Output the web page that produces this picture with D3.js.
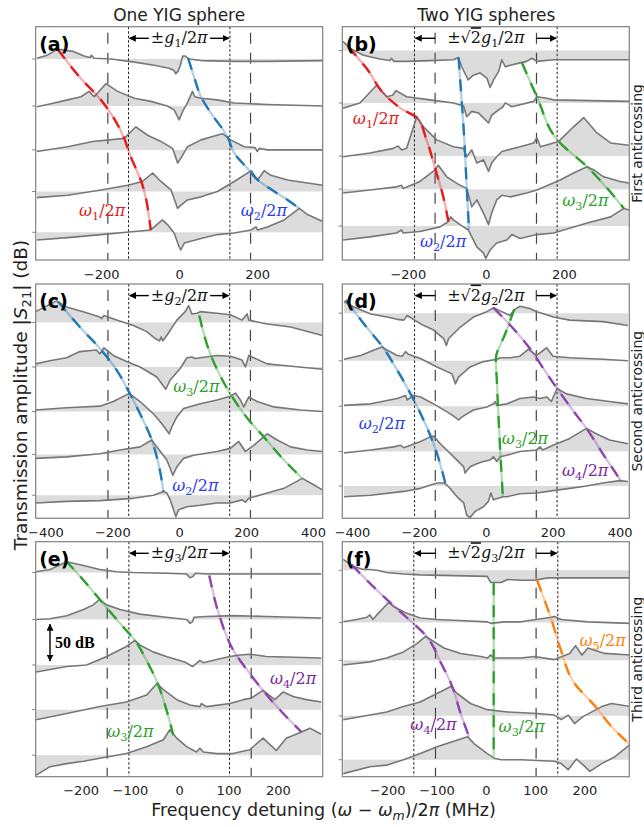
<!DOCTYPE html>
<html>
<head>
<meta charset="utf-8" />
<title>YIG anticrossings | D3</title>
<style>
body { margin: 0; background: white; font-family: "DejaVu Sans", sans-serif; }
</style>
<script src="https://d3js.org/d3.v7.min.js"></script>
</head>
<body>
<script>
// ---------- data: frequency detuning (MHz), level (dB, offset traces) ----------
var domOne = [-368, 368], domTwo = [-429, 429], domThree = [-291, 291];
var ticksOne = [-200, 0, 200], ticksTwo = [-400, -200, 0, 200, 400], ticksThree = [-200, -100, 0, 100, 200];
var rowDb = [303, 305, 305];

// panel (a)
var baseA = [261, 200, 143, 89, 36];
var a1 = [[-365,262],[-338,266],[-312,274],[-273,271],[-244,265],[-228,263],[-225,266],[-218,262],[-175,261],[-115,257],[-64,253],[-26,249],[-13,246],[-9,242],[-3,245],[3,253],[9,265],[15,265],[26,261],[56,259],[141,258],[226,258],[368,259]];
var a2 = [[-365,199],[-329,203],[-286,208],[-252,212],[-231,219],[-218,212],[-188,229],[-158,219],[-115,210],[-73,206],[-30,200],[-13,195],[0,182],[9,193],[21,204],[34,219],[40,212],[56,210],[98,208],[141,204],[226,202],[368,200]];
var a3 = [[-365,141],[-286,147],[-222,154],[-141,158],[-111,173],[-81,162],[-47,154],[-17,145],[-4,126],[4,132],[21,147],[56,156],[90,161],[111,164],[132,156],[167,147],[195,146],[200,141],[206,145],[226,143],[368,143]];
var a4 = [[-365,81],[-286,84],[-201,91],[-132,97],[-94,102],[-68,113],[-47,102],[-21,91],[-4,67],[4,71],[21,78],[56,82],[98,89],[141,102],[185,116],[201,104],[218,116],[235,110],[278,104],[329,100],[368,97]];
var a5 = [[-365,26],[-286,29],[-201,33],[-115,37],[-73,39],[-43,52],[-30,46],[-13,35],[0,17],[4,13],[13,22],[56,28],[98,33],[141,35],[184,39],[197,43],[201,39],[226,43],[269,52],[308,67],[329,59],[368,50]];
var w1A = [[-312,274],[-256,238],[-201,208],[-141,158],[-128,139],[-94,97],[-73,39]];
var w2A = [[23,262],[38,238],[56,212],[81,191],[124,160],[141,139],[175,119],[201,104],[244,89],[278,78],[308,67]];

// panel (b)
var baseB = [272, 204, 135, 92, 44];
var b1 = [[-366,284],[-349,275],[-314,266],[-272,261],[-246,259],[-242,262],[-236,258],[-203,258],[-143,259],[-83,260],[-70,263],[-62,251],[-45,234],[-32,240],[-15,243],[3,236],[11,224],[20,234],[33,245],[41,260],[50,251],[63,253],[88,256],[105,258],[118,262],[131,258],[174,260],[260,260],[367,260]];
var b2 = [[-366,197],[-323,204],[-280,227],[-254,212],[-239,214],[-230,220],[-203,212],[-143,208],[-83,204],[-57,200],[-49,186],[-36,193],[-19,191],[7,178],[15,188],[33,195],[44,199],[50,204],[67,199],[123,206],[131,212],[157,210],[174,208],[367,206]];
var b3 = [[-366,134],[-297,139],[-237,145],[-225,148],[-216,143],[-203,145],[-177,186],[-160,173],[-126,156],[-83,147],[-57,145],[-49,134],[-36,143],[-23,126],[-6,130],[7,115],[15,126],[28,134],[41,141],[88,147],[123,152],[131,159],[140,147],[187,154],[225,173],[251,185],[285,165],[320,152],[367,149]];
var b4 = [[-366,87],[-297,91],[-229,95],[-216,97],[-212,93],[-169,102],[-130,117],[-122,123],[-100,108],[-66,97],[-49,93],[-36,69],[-23,78],[-6,61],[7,46],[15,61],[28,78],[41,84],[63,82],[105,87],[131,91],[191,104],[225,113],[260,121],[277,117],[302,108],[345,102],[367,100]];
var b5 = [[-366,26],[-297,30],[-229,35],[-216,39],[-212,35],[-169,37],[-117,43],[-96,50],[-90,56],[-83,52],[-66,46],[-45,39],[-32,26],[-23,17],[-6,9],[0,2],[11,13],[28,22],[54,26],[67,33],[88,28],[131,33],[174,35],[260,48],[320,56],[354,67],[367,65]];
var w1B = [[-353,277],[-306,249],[-254,212],[-212,195],[-177,185],[-152,156],[-130,119],[-109,82],[-96,50]];
var w2B = [[-70,263],[-62,208],[-55,156],[-49,95],[-43,39]];
var w3B = [[93,256],[131,212],[187,154],[260,121],[354,67]];

// panel (c)
var baseC = [255, 197, 139, 83, 30];
var c1 = [[-429,269],[-367,283],[-337,275],[-287,269],[-237,262],[-232,260],[-225,264],[-187,258],[-137,251],[-97,243],[-72,234],[-59,231],[-54,236],[-49,231],[-37,238],[-7,258],[18,269],[28,277],[38,266],[53,267],[63,269],[113,267],[153,265],[188,258],[203,266],[208,258],[263,253],[333,249],[428,238]];
var c2 = [[-429,201],[-387,205],[-337,209],[-297,217],[-247,219],[-237,214],[-225,222],[-197,212],[-157,204],[-117,197],[-67,184],[-40,168],[-27,180],[3,195],[23,209],[38,210],[48,208],[63,209],[113,212],[153,211],[188,206],[198,197],[208,212],[263,201],[313,199],[428,194]];
var c3 = [[-429,141],[-337,144],[-237,146],[-197,152],[-152,162],[-142,160],[-117,152],[-77,136],[-52,123],[-30,110],[-22,119],[-7,132],[13,143],[63,149],[113,154],[153,159],[168,163],[183,154],[193,145],[208,158],[233,152],[283,145],[363,141],[428,139]];
var c4 = [[-429,78],[-337,80],[-237,84],[-177,89],[-117,93],[-82,102],[-67,93],[-37,76],[-19,56],[-7,67],[13,78],[43,82],[113,87],[153,91],[178,100],[198,87],[223,95],[263,110],[293,102],[333,93],[383,89],[428,87]];
var c5 = [[-429,20],[-337,22],[-237,23],[-137,26],[-77,30],[-47,35],[-37,33],[-27,24],[-17,11],[-10,2],[-2,11],[23,15],[63,17],[113,20],[153,20],[188,24],[198,21],[208,26],[263,33],[313,39],[368,52],[393,46],[428,37]];
var w2C = [[-362,282],[-297,249],[-237,221],[-187,193],[-152,166],[-117,136],[-82,102],[-62,71],[-47,35]];
var w3C = [[60,264],[93,214],[153,162],[208,128],[253,106],[313,76],[368,52]];

// panel (d)
var baseD = [267, 205, 146, 87, 42];
var dd1 = [[-424,282],[-394,275],[-344,266],[-295,262],[-265,259],[-245,258],[-235,264],[-195,253],[-156,245],[-126,234],[-118,225],[-111,234],[-76,249],[-37,262],[3,269],[23,274],[38,271],[63,266],[72,264],[87,272],[102,276],[132,273],[152,269],[182,265],[201,262],[251,258],[350,256],[425,251]];
var dd2 = [[-424,207],[-374,212],[-334,219],[-310,223],[-295,219],[-265,212],[-250,211],[-240,217],[-233,214],[-195,208],[-146,197],[-101,188],[-91,175],[-81,184],[-47,197],[-7,204],[33,207],[43,209],[72,209],[102,211],[127,220],[152,212],[182,222],[201,211],[251,209],[350,207],[425,205]];
var dd3 = [[-424,147],[-344,149],[-265,156],[-240,160],[-235,154],[-217,160],[-195,158],[-156,149],[-106,136],[-81,128],[-71,132],[-37,141],[3,145],[23,149],[28,152],[33,147],[63,149],[102,156],[142,158],[162,156],[182,158],[196,152],[213,169],[241,162],[301,156],[370,152],[425,149]];
var dd4 = [[-424,85],[-344,89],[-275,93],[-255,95],[-245,92],[-195,100],[-166,106],[-156,107],[-136,97],[-96,80],[-66,67],[-62,59],[-47,67],[-27,71],[-7,74],[13,76],[23,80],[33,74],[43,80],[63,82],[102,87],[152,89],[162,93],[170,89],[201,95],[251,104],[301,117],[330,110],[370,102],[425,97]];
var dd5 = [[-424,28],[-344,30],[-245,35],[-195,39],[-146,46],[-124,46],[-111,41],[-86,28],[-66,20],[-57,4],[-47,1],[-32,9],[-7,15],[8,22],[15,33],[23,24],[51,28],[63,28],[102,32],[152,33],[201,36],[251,39],[301,42],[350,46],[400,49],[425,48]];
var w2D = [[-419,284],[-364,253],[-305,221],[-265,193],[-220,158],[-186,128],[-156,97],[-121,46]];
var w3D = [[85,272],[58,240],[30,207],[33,180],[36,149],[40,115],[44,80],[51,28]];
var w4D = [[23,274],[82,247],[132,221],[172,195],[213,169],[256,143],[301,117],[350,84],[405,48]];

// panel (e)
var baseE = [265, 204, 145, 87, 28];
var e1 = [[-290,266],[-262,269],[-228,279],[-208,276],[-194,274],[-161,269],[-127,266],[-93,265],[-26,264],[15,263],[22,258],[28,260],[33,264],[55,263],[109,263],[177,263],[288,263]];
var e2 = [[-290,204],[-262,205],[-228,209],[-194,217],[-174,223],[-162,230],[-147,223],[-120,217],[-80,211],[-26,207],[15,204],[22,199],[27,201],[30,207],[55,208],[109,209],[177,208],[288,206]];
var e3 = [[-290,136],[-228,143],[-188,145],[-147,156],[-107,169],[-90,177],[-80,171],[-53,162],[-26,156],[11,149],[27,143],[35,147],[42,151],[49,148],[76,152],[103,156],[123,158],[143,159],[177,156],[288,154]];
var e4 = [[-290,74],[-228,82],[-161,91],[-107,97],[-66,106],[-45,121],[-32,113],[-5,100],[22,93],[42,91],[45,95],[55,91],[103,95],[130,100],[146,102],[170,112],[194,100],[211,110],[231,104],[258,100],[288,97]];
var e5 = [[-290,2],[-280,6],[-262,13],[-228,17],[-194,20],[-161,24],[-107,30],[-66,39],[-32,48],[-19,61],[-5,50],[15,39],[35,32],[42,37],[49,32],[76,30],[109,30],[143,35],[170,50],[197,34],[217,50],[248,58],[265,63],[288,55]];
var w3E = [[-231,281],[-194,255],[-161,230],[-120,199],[-90,177],[-63,147],[-43,120],[-26,87],[-12,54]];
var w4E = [[61,261],[82,208],[109,165],[143,134],[170,112],[211,82],[248,58]];
var scaleBarE = [-262, 149, 199];

// panel (f)
var baseF = [268, 200, 151, 79, 22];
var f1 = [[-289,282],[-269,273],[-248,269],[-235,269],[-221,268],[-201,265],[-167,263],[-133,262],[-65,261],[3,260],[10,252],[31,252],[44,256],[71,255],[99,255],[126,258],[139,258],[207,258],[293,258]];
var f2 = [[-289,201],[-262,204],[-241,207],[-235,210],[-229,204],[-221,210],[-197,226],[-187,221],[-160,212],[-133,206],[-99,204],[-65,203],[3,201],[10,199],[37,201],[71,201],[133,207],[139,208],[153,204],[207,201],[293,199]];
var f3 = [[-289,145],[-235,149],[-201,154],[-167,162],[-139,173],[-122,182],[-112,178],[-85,167],[-51,160],[-10,156],[3,154],[10,158],[17,154],[71,154],[99,156],[139,152],[170,160],[182,170],[195,158],[207,167],[241,160],[293,158]];
var f4 = [[-289,74],[-235,80],[-201,84],[-167,91],[-133,97],[-99,108],[-71,117],[-58,108],[-31,95],[3,87],[44,84],[105,82],[139,80],[153,74],[167,80],[180,69],[197,78],[235,91],[255,95],[293,91]];
var f5 = [[-289,4],[-235,13],[-201,15],[-167,22],[-133,30],[-99,39],[-65,46],[-37,52],[-24,43],[3,30],[17,24],[31,22],[71,22],[139,20],[153,17],[167,9],[184,23],[201,13],[211,7],[235,17],[262,26],[293,42]];
var w4F = [[-272,275],[-235,251],[-194,226],[-156,204],[-120,182],[-92,149],[-68,117],[-51,82],[-34,52]];
var w3F = [[16,251],[16,26]];
var w5F = [[104,255],[133,204],[152,165],[180,121],[221,92],[255,65],[290,43]];

// coupling strengths (MHz): g and sqrt(2) g
var gOne = [130, 151, 102];
var gTwo = [183, 213, 146];

// mode labels: [mode, detuning, level]
var labA = [[1,-257,57],[2,158,57]];
var labB = [[1,-341,177],[2,-169,17],[3,196,70]];
var labC = [[3,-18,164],[2,-21,36]];
var labD = [[2,-380,116],[3,48,97],[4,228,55]];
var labE = [[3,-146,52],[4,184,120]];
var labF = [[5,190,170],[4,-153,60],[3,26,58]];

var rowNames = ["First anticrossing", "Second anticrossing", "Third anticrossing"];

// ---------- layout ----------
var width = 644, height = 827;
var colX = [35.7, 342.3], colW = 287;
var rowY = [26.7, 284, 541.7], rowH = [233.3, 234.3, 235];
var lineCol = {1:"#e41a1c", 2:"#1f77b4", 3:"#2ca02c", 4:"#8e44ad", 5:"#ff7f0e"};
var textCol = {1:"#e41a1c", 2:"#2b3cf0", 3:"#2ca02c", 4:"#7b2a9c", 5:"#ff7f0e"};

var panels = [
  {id:"a", col:0, row:0, dom:domOne, ticks:ticksOne, base:baseA, traces:[a1,a2,a3,a4,a5], curves:[[1,w1A],[2,w2A]], labs:labA, two:false},
  {id:"b", col:1, row:0, dom:domOne, ticks:ticksOne, base:baseB, traces:[b1,b2,b3,b4,b5], curves:[[1,w1B],[2,w2B],[3,w3B]], labs:labB, two:true},
  {id:"c", col:0, row:1, dom:domTwo, ticks:ticksTwo, base:baseC, traces:[c1,c2,c3,c4,c5], curves:[[2,w2C],[3,w3C]], labs:labC, two:false},
  {id:"d", col:1, row:1, dom:domTwo, ticks:ticksTwo, base:baseD, traces:[dd1,dd2,dd3,dd4,dd5], curves:[[2,w2D],[3,w3D],[4,w4D]], labs:labD, two:true},
  {id:"e", col:0, row:2, dom:domThree, ticks:ticksThree, base:baseE, traces:[e1,e2,e3,e4,e5], curves:[[3,w3E],[4,w4E]], labs:labE, two:false},
  {id:"f", col:1, row:2, dom:domThree, ticks:ticksThree, base:baseF, traces:[f1,f2,f3,f4,f5], curves:[[4,w4F],[3,w3F],[5,w5F]], labs:labF, two:true}
];

var svg = d3.select("body").append("svg").attr("width", width).attr("height", height);
var defs = svg.append("defs");
defs.append("marker").attr("id", "arr").attr("viewBox", "0 0 10 10")
  .attr("refX", 9).attr("refY", 5).attr("markerWidth", 5).attr("markerHeight", 5)
  .attr("orient", "auto-start-reverse")
  .append("path").attr("d", "M0,0L10,5L0,10z").attr("fill", "black");

function mathLabel(sel, x, y, n, color, size) {
  var t = sel.append("text").attr("x", x).attr("y", y).attr("fill", color)
    .attr("font-family", "DejaVu Serif, serif").attr("font-size", size);
  t.append("tspan").attr("font-style", "italic").text("\u03c9");
  t.append("tspan").attr("font-size", size * 0.7).attr("dy", size * 0.25).text(n);
  t.append("tspan").attr("dy", -size * 0.25).text("/2");
  t.append("tspan").attr("font-style", "italic").text("\u03c0");
  return t;
}

function gLabel(sel, cx, y, n, two, size) {
  var t = sel.append("text").attr("x", cx).attr("y", y).attr("text-anchor", "middle")
    .attr("font-family", "DejaVu Serif, serif").attr("font-size", size).attr("fill", "#111");
  t.append("tspan").text(two ? "\u00b1\u221a" : "\u00b1");
  if (two) t.append("tspan").attr("text-decoration", "overline").text("2");
  t.append("tspan").attr("font-style", "italic").text("g");
  t.append("tspan").attr("font-size", size * 0.7).attr("dy", size * 0.25).text(n);
  t.append("tspan").attr("dy", -size * 0.25).text("/2");
  t.append("tspan").attr("font-style", "italic").text("\u03c0");
  return t;
}

function arrow(sel, xa, xb, ya, yb) {
  sel.append("line").attr("x1", xa).attr("x2", xb).attr("y1", ya).attr("y2", yb)
    .attr("stroke", "black").attr("stroke-width", 1.4).attr("marker-end", "url(#arr)");
}

panels.forEach(function(p) {
  var x0 = colX[p.col], y0 = rowY[p.row], h = rowH[p.row];
  var x = d3.scaleLinear().domain(p.dom).range([x0, x0 + colW]);
  var y = d3.scaleLinear().domain([0, rowDb[p.row]]).range([y0 + h, y0]);
  var g = svg.append("g");
  defs.append("clipPath").attr("id", "clip" + p.id).append("rect")
    .attr("x", x0).attr("y", y0).attr("width", colW).attr("height", h);
  var plot = g.append("g").attr("clip-path", "url(#clip" + p.id + ")");

  // gray fill between each trace and its offset level
  p.traces.forEach(function(t, i) {
    var b = p.base[i];
    plot.append("path").datum(t).attr("fill", "#dcdcdc")
      .attr("d", d3.area().x(function(d) { return x(d[0]); }).y0(y(b)).y1(function(d) { return y(d[1]); }));
  });

  // coupling markers
  var gi = p.row;
  var dashedV = p.two ? gOne[gi] : gTwo[gi];
  var dottedV = p.two ? gTwo[gi] : gOne[gi];
  [-dashedV, dashedV].forEach(function(v) {
    plot.append("line").attr("x1", x(v)).attr("x2", x(v)).attr("y1", y0 + 6).attr("y2", y0 + h)
      .attr("stroke", "#444").attr("stroke-width", 1.2).attr("stroke-dasharray", "11,9");
  });
  [-dottedV, dottedV].forEach(function(v) {
    plot.append("line").attr("x1", x(v)).attr("x2", x(v)).attr("y1", y0).attr("y2", y0 + h)
      .attr("stroke", "#222").attr("stroke-width", 1).attr("stroke-dasharray", "2.5,2");
  });

  // traces
  var line = d3.line().x(function(d) { return x(d[0]); }).y(function(d) { return y(d[1]); });
  p.traces.forEach(function(t) {
    plot.append("path").datum(t).attr("fill", "none").attr("stroke", "#777")
      .attr("stroke-width", 1.6).attr("stroke-linejoin", "round").attr("d", line);
  });

  // mode dispersion lines
  var curve = d3.line().curve(d3.curveMonotoneY).x(function(d) { return x(d[0]); }).y(function(d) { return y(d[1]); });
  p.curves.forEach(function(c) {
    plot.append("path").datum(c[1]).attr("fill", "none").attr("stroke", lineCol[c[0]])
      .attr("stroke-opacity", 0.35).attr("stroke-width", 2.3).attr("d", curve);
    plot.append("path").datum(c[1]).attr("fill", "none").attr("stroke", lineCol[c[0]])
      .attr("stroke-width", 2.3).attr("stroke-dasharray", "12,10").attr("d", curve);
  });

  // frame
  g.append("rect").attr("x", x0).attr("y", y0).attr("width", colW).attr("height", h)
    .attr("fill", "none").attr("stroke", "#808080").attr("stroke-width", 1.2);

  // x axis (labels only, as in the reference)
  var ax = g.append("g").attr("transform", "translate(0," + (y0 + h) + ")")
    .call(d3.axisBottom(x).tickValues(p.ticks).tickSize(0).tickPadding(9.3).tickSizeOuter(0)
      .tickFormat(function(d) { return d < 0 ? "\u2212" + (-d) : String(d); }));
  ax.select(".domain").remove();
  ax.selectAll("line").remove();
  ax.selectAll("text").attr("font-family", "DejaVu Sans, sans-serif").attr("font-size", 13).attr("fill", "#222");

  // y ticks at trace offsets
  p.base.forEach(function(b) {
    g.append("line").attr("x1", x0 - 3.5).attr("x2", x0).attr("y1", y(b)).attr("y2", y(b))
      .attr("stroke", "#808080").attr("stroke-width", 1);
  });

  // panel letter
  g.append("text").attr("x", x0 + 3.5).attr("y", y0 + 24).attr("font-size", 19).attr("font-weight", "bold")
    .attr("font-family", "DejaVu Sans, sans-serif").text("(" + p.id + ")");

  // coupling annotation
  var ty = y0 + 16.5, ay = y0 + 11.6;
  var gl = gLabel(g, x(0), ty, String(gi + 1), p.two, 16);
  if (p.two) {
    arrow(g, x(-dashedV), x(-dottedV) + 1, ay, ay);
    arrow(g, x(dashedV), x(dottedV) - 1, ay, ay);
  } else {
    var bb = gl.node().getBBox();
    arrow(g, bb.x - 2, x(-dottedV) + 1, ay, ay);
    arrow(g, bb.x + bb.width + 2, x(dottedV) - 1, ay, ay);
  }

  // mode labels
  p.labs.forEach(function(l) {
    mathLabel(g, x(l[1]), y(l[2]), String(l[0]), textCol[l[0]], 16);
  });

  // 50 dB scale bar
  if (p.id === "e") {
    var sx = x(scaleBarE[0]);
    g.append("line").attr("x1", sx).attr("x2", sx).attr("y1", y(scaleBarE[1]) - 1).attr("y2", y(scaleBarE[2]) + 1)
      .attr("stroke", "black").attr("stroke-width", 1.4)
      .attr("marker-start", "url(#arr)").attr("marker-end", "url(#arr)");
    g.append("text").attr("x", sx + 5).attr("y", (y(scaleBarE[1]) + y(scaleBarE[2])) / 2 + 5.5)
      .attr("font-family", "Liberation Serif, serif").attr("font-weight", "bold").attr("font-size", 16)
      .text("50 dB");
  }

  // row names
  if (p.col === 1) {
    svg.append("text").attr("transform", "translate(642," + (y0 + h / 2) + ") rotate(-90)")
      .attr("text-anchor", "middle").attr("font-size", 14).attr("fill", "#222")
      .text(rowNames[p.row]);
  }
});

// column titles
svg.append("text").attr("x", colX[0] + colW / 2).attr("y", 20.5).attr("text-anchor", "middle")
  .attr("font-size", 17).attr("fill", "#222").text("One YIG sphere");
svg.append("text").attr("x", colX[1] + colW / 2 + 0.5).attr("y", 20.5).attr("text-anchor", "middle")
  .attr("font-size", 17).attr("fill", "#222").text("Two YIG spheres");

// axis titles
var yl = svg.append("text").attr("transform", "translate(27,395) rotate(-90)")
  .attr("text-anchor", "middle").attr("font-size", 18.5).attr("fill", "#222");
yl.append("tspan").text("Transmission amplitude |");
yl.append("tspan").attr("font-style", "italic").text("S");
yl.append("tspan").attr("font-size", 13).attr("dy", 4).text("21");
yl.append("tspan").attr("dy", -4).text("| (dB)");

var xl = svg.append("text").attr("x", 323.5).attr("y", 815.5).attr("text-anchor", "middle")
  .attr("font-size", 17.5).attr("fill", "#222");
xl.append("tspan").text("Frequency detuning (");
xl.append("tspan").attr("font-style", "italic").text("\u03c9");
xl.append("tspan").text(" \u2212 ");
xl.append("tspan").attr("font-style", "italic").text("\u03c9");
xl.append("tspan").attr("font-style", "italic").attr("font-size", 12.5).attr("dy", 4).text("m");
xl.append("tspan").attr("dy", -4).text(")/2");
xl.append("tspan").attr("font-style", "italic").text("\u03c0");
xl.append("tspan").text(" (MHz)");
</script>
</body>
</html>
